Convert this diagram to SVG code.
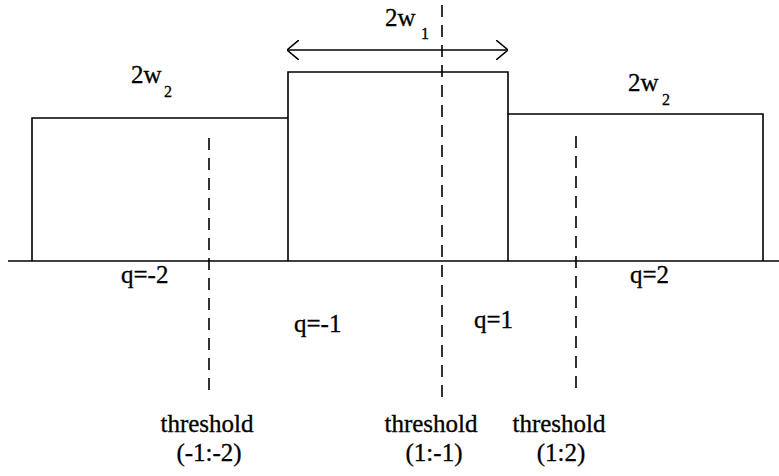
<svg xmlns="http://www.w3.org/2000/svg" width="779" height="476" viewBox="0 0 779 476">
<style>
.ln{stroke:#000;stroke-width:1.6;fill:none}
.dash{stroke:#000;stroke-width:1.6;fill:none;stroke-dasharray:12 8}
.lbl{font-size:25px}
.sub{font-size:16px}
.th{font-size:25px;text-anchor:middle}
#labels text{font-family:Liberation Serif,Times New Roman,Times,Tinos,Nimbus Roman,Nimbus Roman No9 L,DejaVu Serif,Noto Serif,FreeSerif,serif}
</style>
<defs>
<marker id="open" viewBox="0 0 12 20" refX="12" refY="10" markerWidth="12" markerHeight="20" markerUnits="userSpaceOnUse" orient="auto-start-reverse">
<path d="M0,0 L12,10 L0,20" fill="none" stroke="#000" stroke-width="1.6"/>
</marker>
</defs>
<g id="axis"><line class="ln" x1="8" y1="261" x2="779" y2="261"/></g>
<g id="bar-left"><polyline class="ln" points="32,261 32,118 288,118"/></g>
<g id="bar-center"><polyline class="ln" points="288,261 288,72 508,72 508,114"/></g>
<g id="bar-right"><polyline class="ln" points="508,261 508,114 763,114 763,261"/></g>
<g id="connectors">
<line class="ln" x1="287" y1="50" x2="508" y2="50" marker-start="url(#open)" marker-end="url(#open)"/>
<line class="dash" x1="442" y1="5" x2="442" y2="400"/>
<line class="dash" x1="209" y1="138" x2="209" y2="396"/>
<line class="dash" x1="576" y1="136" x2="576" y2="396"/>
</g>
<g id="labels" fill="#000" stroke="#000" stroke-width="0.3">
<text class="lbl" x="385" y="26">2w</text><text class="sub" x="421" y="39">1</text>
<text class="lbl" x="131" y="83">2w</text><text class="sub" x="164" y="97">2</text>
<text class="lbl" x="628" y="91">2w</text><text class="sub" x="662" y="105">2</text>
<text class="lbl" x="121" y="283">q=-2</text>
<text class="lbl" x="294" y="332">q=-1</text>
<text class="lbl" x="474" y="328">q=1</text>
<text class="lbl" x="630" y="283">q=2</text>
<text class="th" x="207" y="432">threshold</text>
<text class="th" x="209" y="461">(-1:-2)</text>
<text class="th" x="431" y="432">threshold</text>
<text class="th" x="434" y="461">(1:-1)</text>
<text class="th" x="559" y="432">threshold</text>
<text class="th" x="561" y="461">(1:2)</text>
</g>
</svg>
